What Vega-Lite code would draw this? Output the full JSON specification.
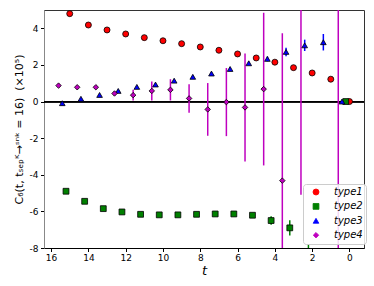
{
  "$schema": "https://vega.github.io/schema/vega-lite/v6.json",
  "width": 320,
  "height": 238,
  "autosize": {"type": "none"},
  "padding": {"left": 44, "top": 10, "right": 10, "bottom": 38},
  "background": "white",
  "config": {
    "font": "DejaVu Sans",
    "view": {"stroke": "#333333", "strokeWidth": 1},
    "axis": {
      "grid": false,
      "tickColor": "black",
      "tickSize": 3.5,
      "labelColor": "black",
      "labelFont": "DejaVu Sans",
      "labelFontSize": 9,
      "labelOverlap": false,
      "titleFont": "DejaVu Sans",
      "titleFontWeight": "normal",
      "titleColor": "black"
    }
  },
  "data": {
    "values": [
      {"type": "type1", "t": 15, "v": 4.80, "lo": 4.76, "hi": 4.84},
      {"type": "type1", "t": 14, "v": 4.18, "lo": 4.14, "hi": 4.22},
      {"type": "type1", "t": 13, "v": 3.91, "lo": 3.87, "hi": 3.95},
      {"type": "type1", "t": 12, "v": 3.69, "lo": 3.65, "hi": 3.73},
      {"type": "type1", "t": 11, "v": 3.49, "lo": 3.45, "hi": 3.53},
      {"type": "type1", "t": 10, "v": 3.32, "lo": 3.28, "hi": 3.36},
      {"type": "type1", "t": 9, "v": 3.16, "lo": 3.12, "hi": 3.20},
      {"type": "type1", "t": 8, "v": 2.98, "lo": 2.94, "hi": 3.02},
      {"type": "type1", "t": 7, "v": 2.80, "lo": 2.76, "hi": 2.84},
      {"type": "type1", "t": 6, "v": 2.60, "lo": 2.56, "hi": 2.64},
      {"type": "type1", "t": 5, "v": 2.38, "lo": 2.34, "hi": 2.42},
      {"type": "type1", "t": 4, "v": 2.15, "lo": 2.11, "hi": 2.19},
      {"type": "type1", "t": 3, "v": 1.85, "lo": 1.81, "hi": 1.89},
      {"type": "type1", "t": 2, "v": 1.56, "lo": 1.52, "hi": 1.60},
      {"type": "type1", "t": 1, "v": 1.22, "lo": 1.18, "hi": 1.26},
      {"type": "type1", "t": 0, "v": 0.0, "lo": -0.02, "hi": 0.02},
      {"type": "type2", "t": 15.2, "v": -4.90, "lo": -4.95, "hi": -4.85},
      {"type": "type2", "t": 14.2, "v": -5.45, "lo": -5.50, "hi": -5.40},
      {"type": "type2", "t": 13.2, "v": -5.85, "lo": -5.90, "hi": -5.80},
      {"type": "type2", "t": 12.2, "v": -6.03, "lo": -6.08, "hi": -5.98},
      {"type": "type2", "t": 11.2, "v": -6.16, "lo": -6.21, "hi": -6.11},
      {"type": "type2", "t": 10.2, "v": -6.19, "lo": -6.24, "hi": -6.14},
      {"type": "type2", "t": 9.2, "v": -6.19, "lo": -6.24, "hi": -6.14},
      {"type": "type2", "t": 8.2, "v": -6.16, "lo": -6.22, "hi": -6.10},
      {"type": "type2", "t": 7.2, "v": -6.14, "lo": -6.20, "hi": -6.08},
      {"type": "type2", "t": 6.2, "v": -6.14, "lo": -6.21, "hi": -6.07},
      {"type": "type2", "t": 5.2, "v": -6.21, "lo": -6.33, "hi": -6.09},
      {"type": "type2", "t": 4.2, "v": -6.50, "lo": -6.73, "hi": -6.27},
      {"type": "type2", "t": 3.2, "v": -6.90, "lo": -7.32, "hi": -6.48},
      {"type": "type2", "t": 2.2, "v": -9.50, "lo": -11.2, "hi": -7.80},
      {"type": "type2", "t": 0.2, "v": 0.0, "lo": -0.02, "hi": 0.02},
      {"type": "type3", "t": 15.4, "v": -0.09, "lo": -0.12, "hi": -0.06},
      {"type": "type3", "t": 14.4, "v": 0.15, "lo": 0.12, "hi": 0.18},
      {"type": "type3", "t": 13.4, "v": 0.36, "lo": 0.33, "hi": 0.39},
      {"type": "type3", "t": 12.4, "v": 0.58, "lo": 0.55, "hi": 0.61},
      {"type": "type3", "t": 11.4, "v": 0.80, "lo": 0.77, "hi": 0.83},
      {"type": "type3", "t": 10.4, "v": 0.93, "lo": 0.89, "hi": 0.97},
      {"type": "type3", "t": 9.4, "v": 1.14, "lo": 1.09, "hi": 1.19},
      {"type": "type3", "t": 8.4, "v": 1.35, "lo": 1.30, "hi": 1.40},
      {"type": "type3", "t": 7.4, "v": 1.53, "lo": 1.47, "hi": 1.59},
      {"type": "type3", "t": 6.4, "v": 1.78, "lo": 1.70, "hi": 1.86},
      {"type": "type3", "t": 5.4, "v": 2.09, "lo": 1.99, "hi": 2.19},
      {"type": "type3", "t": 4.4, "v": 2.33, "lo": 2.20, "hi": 2.46},
      {"type": "type3", "t": 3.4, "v": 2.71, "lo": 2.48, "hi": 2.94},
      {"type": "type3", "t": 2.4, "v": 3.07, "lo": 2.76, "hi": 3.38},
      {"type": "type3", "t": 1.4, "v": 3.24, "lo": 2.79, "hi": 3.69},
      {"type": "type3", "t": 0.4, "v": 0.0, "lo": -0.02, "hi": 0.02},
      {"type": "type4", "t": 15.6, "v": 0.87, "lo": 0.82, "hi": 0.92},
      {"type": "type4", "t": 14.6, "v": 0.78, "lo": 0.71, "hi": 0.85},
      {"type": "type4", "t": 13.6, "v": 0.78, "lo": 0.70, "hi": 0.86},
      {"type": "type4", "t": 12.6, "v": 0.44, "lo": 0.32, "hi": 0.56},
      {"type": "type4", "t": 11.6, "v": 0.35, "lo": 0.05, "hi": 0.65},
      {"type": "type4", "t": 10.6, "v": 0.58, "lo": 0.06, "hi": 1.10},
      {"type": "type4", "t": 9.6, "v": 0.64, "lo": 0.06, "hi": 1.22},
      {"type": "type4", "t": 8.6, "v": 0.17, "lo": -0.61, "hi": 0.95},
      {"type": "type4", "t": 7.6, "v": -0.43, "lo": -1.87, "hi": 1.01},
      {"type": "type4", "t": 6.6, "v": -0.03, "lo": -1.89, "hi": 1.83},
      {"type": "type4", "t": 5.6, "v": -0.32, "lo": -3.27, "hi": 2.63},
      {"type": "type4", "t": 4.6, "v": 0.68, "lo": -3.49, "hi": 4.85},
      {"type": "type4", "t": 3.6, "v": -4.32, "lo": -12.37, "hi": 3.73},
      {"type": "type4", "t": 2.6, "v": 7.0, "lo": -5.09, "hi": 19.1},
      {"type": "type4", "t": 0.6, "v": 12.0, "lo": -18.0, "hi": 42.0}
    ]
  },
  "layer": [
    {
      "mark": {"type": "rule", "color": "black", "strokeWidth": 1},
      "encoding": {
        "y": {
          "datum": 0, "type": "quantitative",
          "scale": {"domain": [-8, 5], "nice": false, "zero": false},
          "axis": {"values": [-8, -6, -4, -2, 0, 2, 4], "labelExpr": "replace(datum.label, '−', '-')", "title": "C₆(t, tₛₑₚᴷ→ˢⁿᵏ = 16) \u00a0(×10⁵)", "titleFontSize": 11, "titlePadding": 5, "labelPadding": 2.5, "domainColor": "#888888"}
        }
      }
    },
    {
      "mark": {"type": "rule", "strokeWidth": 1.5, "clip": true},
      "encoding": {
        "x": {
          "field": "t", "type": "quantitative",
          "scale": {"domain": [16.38, -0.78], "nice": false, "zero": false},
          "axis": {"values": [16, 14, 12, 10, 8, 6, 4, 2, 0], "title": "t", "titleFontStyle": "italic", "titleFontSize": 13, "titlePadding": 2, "labelPadding": 2, "domainColor": "black"}
        },
        "y": {
          "field": "lo", "type": "quantitative",
          "scale": {"domain": [-8, 5], "nice": false, "zero": false},
          "axis": {"values": [-8, -6, -4, -2, 0, 2, 4], "labelExpr": "replace(datum.label, '−', '-')", "title": "C₆(t, tₛₑₚᴷ→ˢⁿᵏ = 16) \u00a0(×10⁵)", "titleFontSize": 11, "titlePadding": 5, "labelPadding": 2.5, "domainColor": "#888888"}
        },
        "y2": {"field": "hi"},
        "color": {"field": "type", "type": "nominal", "scale": {"domain": ["type1", "type2", "type3", "type4"], "range": ["#ff0000", "#008000", "#0000ff", "#bf00bf"]}}
      }
    },
    {
      "mark": {"type": "point", "filled": true, "opacity": 1, "stroke": "black", "strokeWidth": 0.8, "clip": true},
      "encoding": {
        "x": {
          "field": "t", "type": "quantitative",
          "scale": {"domain": [16.38, -0.78], "nice": false, "zero": false},
          "axis": {"values": [16, 14, 12, 10, 8, 6, 4, 2, 0], "title": "t", "titleFontStyle": "italic", "titleFontSize": 13, "titlePadding": 2, "labelPadding": 2, "domainColor": "black"}
        },
        "y": {
          "field": "v", "type": "quantitative",
          "scale": {"domain": [-8, 5], "nice": false, "zero": false},
          "axis": {"values": [-8, -6, -4, -2, 0, 2, 4], "labelExpr": "replace(datum.label, '−', '-')", "title": "C₆(t, tₛₑₚᴷ→ˢⁿᵏ = 16) \u00a0(×10⁵)", "titleFontSize": 11, "titlePadding": 5, "labelPadding": 2.5, "domainColor": "#888888"}
        },
        "color": {
          "field": "type", "type": "nominal",
          "scale": {"domain": ["type1", "type2", "type3", "type4"], "range": ["#ff0000", "#008000", "#0000ff", "#bf00bf"]},
          "legend": {"title": null, "orient": "none", "legendX": 259, "legendY": 174, "labelFontStyle": "italic", "labelFontSize": 10, "labelColor": "black", "padding": 3, "rowPadding": 4.4, "strokeColor": "#cccccc", "fillColor": "rgba(255,255,255,0.85)", "cornerRadius": 3, "symbolOffset": 5, "labelOffset": 13, "symbolSize": 40, "symbolStrokeColor": "black", "symbolStrokeWidth": 0.8}
        },
        "shape": {
          "field": "type", "type": "nominal",
          "scale": {"domain": ["type1", "type2", "type3", "type4"], "range": ["circle", "square", "triangle-up", "diamond"]}
        },
        "size": {
          "field": "type", "type": "nominal",
          "scale": {"domain": ["type1", "type2", "type3", "type4"], "range": [36, 30, 40, 60]},
          "legend": null
        }
      }
    }
  ]
}
